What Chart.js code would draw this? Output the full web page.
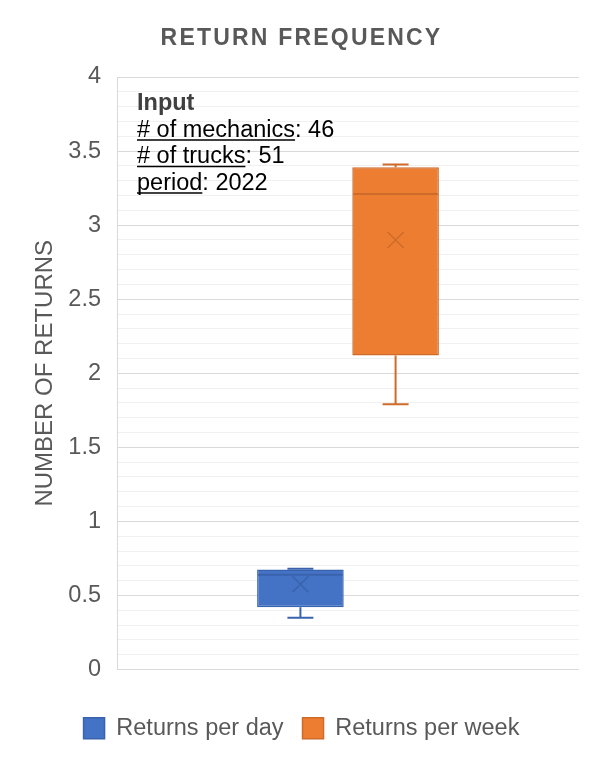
<!DOCTYPE html>
<html>
<head>
<meta charset="utf-8">
<style>
  html, body { margin: 0; padding: 0; background: #ffffff; }
  canvas { display: block; }
</style>
<script src="https://cdn.jsdelivr.net/npm/chart.js@4.4.1/dist/chart.umd.min.js"></script>
</head>
<body>
<canvas id="chart" width="589" height="771"></canvas>
<script>
// Box-and-whisker summary for each series
const seriesNames  = ['Returns per day', 'Returns per week'];
const minValues    = [0.35, 1.79];
const q1Values     = [0.42, 2.12];
const medianValues = [0.64, 3.21];
const q3Values     = [0.675, 3.39];
const maxValues    = [0.68, 3.41];
const meanValues   = [0.575, 2.90];

// Value axis labels (major steps); minor grid every 0.1
const yTickLabels = ['0', '0.5', '1', '1.5', '2', '2.5', '3', '3.5', '4'];

// Notes block text
const noteTitle  = 'Input';
const noteKeys   = ['# of mechanics', '# of trucks', 'period'];
const noteValues = ['46', '51', '2022'];

const FONT = '"Liberation Sans", Arial, sans-serif';
const GREY = '#595959';
const fills   = ['#4472C4', '#ED7D31'];
const strokes = ['#3A63AE', '#CE6B2A'];

function isMajor(v) {
  return Math.abs(v * 2 - Math.round(v * 2)) < 1e-6;
}

// Whiskers, caps, median line and mean cross on top of each box
const boxWhiskers = {
  id: 'boxWhiskers',
  afterDatasetsDraw(chart) {
    const ctx = chart.ctx;
    const y = chart.scales.y;
    chart.data.datasets.forEach((ds, i) => {
      const bar = chart.getDatasetMeta(i).data[0];
      if (!bar) return;
      const { x, width } = bar.getProps(['x', 'width'], true);
      const half = width / 2;
      const cap = width * 0.15;
      const yMin = y.getPixelForValue(minValues[i]);
      const yQ1 = y.getPixelForValue(q1Values[i]);
      const yMed = y.getPixelForValue(medianValues[i]);
      const yQ3 = y.getPixelForValue(q3Values[i]);
      const yMax = y.getPixelForValue(maxValues[i]);
      const yMean = y.getPixelForValue(meanValues[i]);
      ctx.save();
      ctx.strokeStyle = strokes[i];
      ctx.lineWidth = 2;
      ctx.beginPath();
      ctx.moveTo(x, yQ3); ctx.lineTo(x, yMax);
      ctx.moveTo(x - cap, yMax); ctx.lineTo(x + cap, yMax);
      ctx.moveTo(x, yQ1); ctx.lineTo(x, yMin);
      ctx.moveTo(x - cap, yMin); ctx.lineTo(x + cap, yMin);
      ctx.moveTo(x - half + 1, yMed); ctx.lineTo(x + half - 1, yMed);
      ctx.stroke();
      const m = 8;
      ctx.lineWidth = 1.5;
      ctx.beginPath();
      ctx.moveTo(x - m, yMean - m); ctx.lineTo(x + m, yMean + m);
      ctx.moveTo(x + m, yMean - m); ctx.lineTo(x - m, yMean + m);
      ctx.stroke();
      ctx.restore();
    });
  }
};

// Text notes in the upper-left corner of the plot
const inputNotes = {
  id: 'inputNotes',
  afterDraw(chart) {
    const ctx = chart.ctx;
    const area = chart.chartArea;
    const left = area.left + 20;
    const top = area.top + 33;
    const step = 26.5;
    ctx.save();
    ctx.textBaseline = 'alphabetic';
    ctx.textAlign = 'left';
    ctx.font = 'bold 23.5px ' + FONT;
    ctx.fillStyle = '#404040';
    ctx.fillText(noteTitle, left, top);
    ctx.font = '23.5px ' + FONT;
    ctx.fillStyle = '#000000';
    ctx.strokeStyle = '#000000';
    ctx.lineWidth = 1.5;
    noteKeys.forEach((key, i) => {
      const base = top + step * (i + 1);
      const keyW = ctx.measureText(key).width;
      ctx.fillText(key, left, base);
      ctx.fillText(': ' + noteValues[i], left + keyW, base);
      ctx.beginPath();
      ctx.moveTo(left, base + 3.5);
      ctx.lineTo(left + keyW, base + 3.5);
      ctx.stroke();
    });
    ctx.restore();
  }
};

// Title drawn with a little letter spacing
const spacedTitle = {
  id: 'spacedTitle',
  afterLayout(chart) {
    const tb = chart.titleBlock;
    if (tb && !tb._spaced) {
      const orig = tb.draw;
      tb.draw = function () {
        const ctx = chart.ctx;
        ctx.save();
        ctx.letterSpacing = '2.2px';
        orig.apply(this, arguments);
        ctx.restore();
      };
      tb._spaced = true;
    }
  }
};

const datasets = seriesNames.map((name, i) => ({
  label: name,
  data: [[q1Values[i], q3Values[i]]],
  backgroundColor: fills[i],
  borderColor: strokes[i],
  borderWidth: 1.5,
  borderSkipped: false
}));

new Chart(document.getElementById('chart'), {
  type: 'bar',
  data: { labels: [''], datasets },
  plugins: [boxWhiskers, inputNotes, spacedTitle],
  options: {
    responsive: false,
    animation: false,
    devicePixelRatio: 1,
    categoryPercentage: 0.412,
    barPercentage: 0.91,
    layout: { padding: { left: 24, right: 10, top: 0, bottom: 21 } },
    plugins: {
      tooltip: { enabled: false },
      title: {
        display: true,
        text: 'RETURN FREQUENCY',
        color: GREY,
        font: { family: FONT, size: 23, weight: 'bold', lineHeight: 1.2 },
        padding: { top: 25, bottom: 24.4 }
      },
      legend: {
        position: 'bottom',
        labels: {
          color: GREY,
          font: { family: FONT, size: 23.5 },
          boxWidth: 21,
          boxHeight: 21,
          padding: 19
        }
      }
    },
    scales: {
      x: {
        type: 'category',
        grid: { display: false },
        border: { display: false },
        ticks: { display: false },
        afterFit(scale) { scale.height = 28; }
      },
      y: {
        min: 0,
        max: 4,
        afterFit(scale) { scale.width = 93; },
        ticks: {
          stepSize: 0.1,
          autoSkip: false,
          padding: 16,
          color: GREY,
          font: { family: FONT, size: 23.5 },
          callback(value) {
            const hit = yTickLabels.find(t => Math.abs(Number(t) - value) < 1e-6);
            return hit === undefined ? '' : hit;
          }
        },
        grid: {
          drawTicks: false,
          color: c => (isMajor(c.tick.value) ? '#d9d9d9' : '#f0f0f0'),
          lineWidth: 1
        },
        border: { display: true, color: '#d9d9d9', width: 1 },
        title: {
          display: true,
          text: 'NUMBER OF RETURNS',
          color: GREY,
          font: { family: FONT, size: 24 },
          padding: { top: 7, bottom: 0 }
        }
      }
    }
  }
});
</script>
</body>
</html>
